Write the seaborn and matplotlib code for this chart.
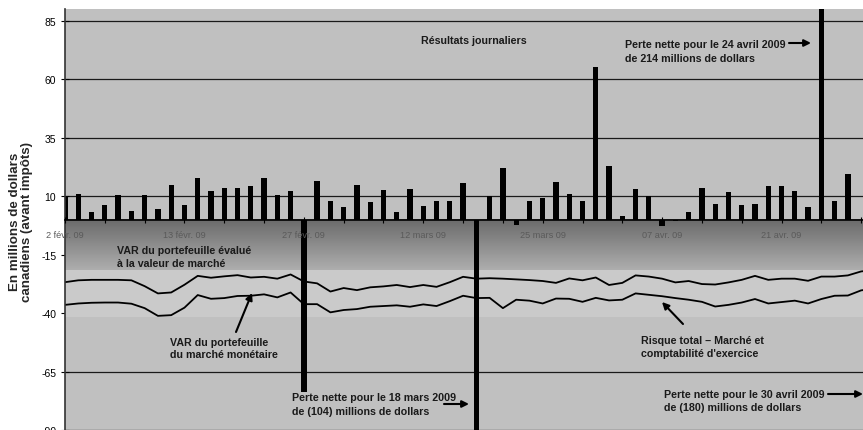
import numpy as np
import pandas as pd
import matplotlib
matplotlib.use("Agg")
import matplotlib.pyplot as plt
import seaborn as sns

# ---------------- data ----------------
trading_days = (
    ["2009-02-%s" % d for d in ["02", "03", "04", "05", "06", "09", "10", "11", "12", "13",
                                 "17", "18", "19", "20", "23", "24", "25", "26", "27"]]
    + ["2009-03-%s" % d for d in ["02", "03", "04", "05", "06", "09", "10", "11", "12", "13",
                                   "16", "17", "18", "19", "20", "23", "24", "25", "26", "27",
                                   "30", "31"]]
    + ["2009-04-%s" % d for d in ["01", "02", "03", "06", "07", "08", "09", "13", "14", "15",
                                   "16", "17", "20", "21", "22", "23", "24", "27", "28", "29",
                                   "30"]]
)

daily_results = [10.0, 11.0, 3.4, 6.3, 10.6, 3.8, 10.6, 4.6, 14.8, 6.3,
                 17.7, 12.3, 13.5, 13.5, 14.4, 17.7, 10.6, 12.3, -73.6, 16.5,
                 8.0, 5.5, 14.8, 7.6, 12.7, 3.0, 13.1, 5.9, 8.0, 8.0,
                 15.6, -104.0, 10.0, 22.0, -2.5, 8.0, 9.3, 16.1, 11.0, 8.0,
                 65.0, 23.0, 1.7, 13.0, 10.0, -2.7, -0.5, 3.4, 13.5, 6.8,
                 11.8, 6.3, 6.8, 14.4, 14.4, 12.3, 5.5, 214.0, 8.0, 19.4,
                 0.0, -180.0]

var_mark_to_market = [-26.8, -26.0, -25.8, -25.8, -25.8, -26.0, -28.5, -31.6, -31.2, -27.9,
                      -24.1, -24.9, -24.3, -23.8, -24.8, -24.5, -25.3, -23.5, -26.5, -27.3,
                      -30.8, -29.3, -30.2, -29.0, -28.6, -28.0, -28.9, -28.0, -28.8, -26.8,
                      -24.5, -25.3, -25.1, -25.3, -25.6, -25.9, -26.3, -27.1, -25.2, -26.0,
                      -24.8, -28.0, -27.1, -23.9, -24.4, -25.3, -26.9, -26.3, -27.6, -27.8,
                      -26.9, -25.8, -24.1, -25.8, -25.3, -25.3, -26.2, -24.4, -24.4, -23.9,
                      -22.2, -21.5]

total_risk = [-36.5, -35.9, -35.6, -35.5, -35.5, -36.0, -37.9, -41.2, -40.9, -37.7,
              -32.3, -33.9, -33.6, -32.7, -32.6, -32.0, -33.3, -31.2, -36.2, -36.2,
              -39.7, -38.7, -38.3, -37.3, -37.0, -36.7, -37.3, -36.3, -37.0, -34.9,
              -32.6, -33.6, -33.5, -37.9, -34.3, -34.7, -35.9, -33.8, -33.9, -35.2,
              -33.5, -34.6, -34.3, -31.6, -32.2, -32.8, -33.6, -34.3, -35.2, -37.2,
              -36.5, -35.5, -34.0, -35.9, -35.3, -34.7, -35.9, -34.0, -32.6, -32.5,
              -30.3, -29.5]

x_tick_labels = ["2 févr. 09", "13 févr. 09", "27 févr. 09", "12 mars 09",
                 "25 mars 09", "07 avr. 09", "21 avr. 09"]
y_ticks = [-90, -65, -40, -15, 10, 35, 60, 85]

# ---------------- figure ----------------
sns.set_style("white")
plt.rcParams["font.family"] = ["Liberation Sans", "DejaVu Sans"]

W, H = 863, 431
fig = plt.figure(figsize=(W / 100, H / 100), dpi=100)
fig.patch.set_facecolor("white")
ax = fig.add_axes([64.5 / W, 0.0, (W - 64.5) / W, 421 / H])
ax.set_facecolor("#c0c0c0")

n = len(trading_days)
df = pd.DataFrame({"jour": np.arange(n), "resultat": daily_results,
                   "var_mtm": var_mark_to_market, "risque": total_risk})

# background bands
grad = np.linspace(0.42, 0.68, 64).reshape(-1, 1)
ax.imshow(grad, extent=[-1, n + 1, -21.5, 0], aspect="auto", cmap="gray",
          vmin=0, vmax=1, zorder=0.6, interpolation="bilinear")
ax.axhspan(-41.6, -21.5, color="#cacaca", lw=0, zorder=0.6)

sns.barplot(data=df, x="jour", y="resultat", native_scale=True, width=0.4,
            color="black", saturation=1, errorbar=None, ax=ax, zorder=2,
            edgecolor="black", linewidth=0)
sns.lineplot(data=df, x="jour", y="var_mtm", color="black", lw=1.3, ax=ax, zorder=3)
sns.lineplot(data=df, x="jour", y="risque", color="black", lw=1.3, ax=ax, zorder=3)

ax.set_xlim(-0.04, 60.14)
ax.set_ylim(-90, 90)

ax.set_yticks(y_ticks)
ax.set_yticklabels([str(v) for v in y_ticks])
ax.yaxis.grid(True, color="#1a1a1a", lw=0.9)
ax.xaxis.grid(False)
ax.yaxis.set_zorder(0.5)
ax.xaxis.set_zorder(5)

xt = np.arange(0, n, 3)
ax.set_xticks(xt)
lab = []
k = 0
for t in xt:
    if t % 9 == 0 and k < len(x_tick_labels):
        lab.append(x_tick_labels[k]); k += 1
    else:
        lab.append("")
ax.set_xticklabels(lab)

for s in ["top", "right"]:
    ax.spines[s].set_visible(False)
ax.spines["bottom"].set_position(("data", 0))
ax.spines["bottom"].set_color("black")
ax.spines["bottom"].set_linewidth(1.2)
ax.spines["bottom"].set_zorder(4)
ax.spines["left"].set_color("#333333")
ax.spines["left"].set_linewidth(1.2)
ax.spines["left"].set_zorder(4)

ax.tick_params(axis="x", direction="inout", length=5, width=0.8, colors="black",
               labelsize=6.6, labelcolor="#5a5a5a", pad=5, bottom=True)
ax.tick_params(axis="y", direction="inout", length=6, width=0.8, colors="black",
               labelsize=7.5, pad=3, left=True)
ax.set_xlabel("")
ax.set_ylabel("")

fig.text(21 / W, 1 - 222 / H, "En millions de dollars\ncanadiens (avant impôts)",
         rotation=90, ha="center", va="center", fontsize=9.6, fontweight="bold",
         multialignment="center", linespacing=1.0)

def ftxt(x, ys, lines):
    for y, s in zip(ys, lines):
        fig.text(x / W, 1 - y / H, s, ha="left", va="center_baseline", fontsize=7.7,
                 fontweight="bold", color="#1a1a1a")

def farrow(x0, y0, x1, y1):
    ax.annotate("", xy=(x1, H - y1), xytext=(x0, H - y0), xycoords="figure pixels",
                textcoords="figure pixels",
                arrowprops=dict(arrowstyle="-|>", color="black", lw=1.5,
                                mutation_scale=10, shrinkA=0, shrinkB=0))

ftxt(421, [39.5], ["Résultats journaliers"])
ftxt(625, [44.5, 58.5], ["Perte nette pour le 24 avril 2009", "de 214 millions de dollars"])
farrow(789, 44, 811, 44)
ftxt(117, [250, 263], ["VAR du portefeuille évalué", "à la valeur de marché"])
ftxt(170, [342, 354.5], ["VAR du portefeuille", "du marché monétaire"])
farrow(236, 333, 252, 294)
ftxt(641, [339.5, 353], ["Risque total – Marché et", "comptabilité d'exercice"])
farrow(683, 325, 662, 303)
ftxt(292, [397.5, 411], ["Perte nette pour le 18 mars 2009", "de (104) millions de dollars"])
farrow(444, 405, 469, 405)
ftxt(664, [394.5, 407.5], ["Perte nette pour le 30 avril 2009", "de (180) millions de dollars"])
farrow(828, 395, 863, 395)

fig.savefig("out.png", dpi=100)
